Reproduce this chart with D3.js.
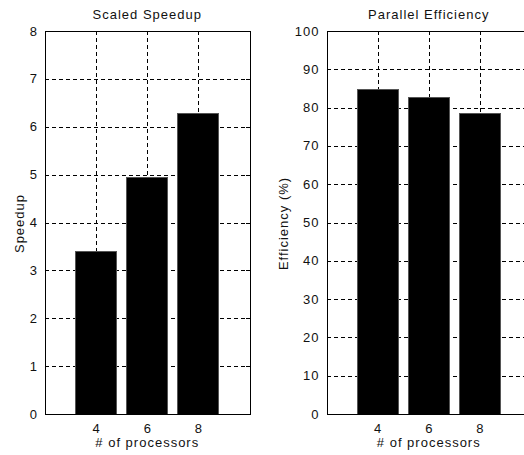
<!DOCTYPE html>
<html>
<head>
<meta charset="UTF-8">
<style>
  body { margin: 0; background: #fff; }
  svg text { font-family: "Liberation Sans", Arial, sans-serif; font-size: 13px; letter-spacing: 1px; fill: #111; }
  .grid line { stroke: #000; stroke-dasharray: 4,3; shape-rendering: crispEdges; }
  .box { fill: none; stroke: #000; shape-rendering: crispEdges; }
  .tick-mark { stroke: #000; shape-rendering: crispEdges; }
  .bar { fill: #000; stroke: #555; stroke-width: 1; shape-rendering: crispEdges; }
</style>
<script src="https://d3js.org/d3.v7.min.js"></script>
</head>
<body>
<svg width="524" height="455"></svg>
<script>
// data
var processors = [4, 6, 8];
var speedup = [3.39, 4.95, 6.27];
var efficiency = [84.8, 82.6, 78.4];
var speedupTicks = [0, 1, 2, 3, 4, 5, 6, 7, 8];
var efficiencyTicks = [0, 10, 20, 30, 40, 50, 60, 70, 80, 90, 100];

var svg = d3.select('svg');

drawPanel({
  left: 45, right: 249.5, top: 31, bottom: 414,
  values: speedup, ticks: speedupTicks, ymax: 8,
  title: 'Scaled Speedup', ylabel: 'Speedup', ylabelX: 19
});

drawPanel({
  left: 326.5, right: 531, top: 31, bottom: 414,
  values: efficiency, ticks: efficiencyTicks, ymax: 100,
  title: 'Parallel Efficiency', ylabel: 'Efficiency (%)', ylabelX: 283
});

function drawPanel(o) {
  var g = svg.append('g');
  var x = d3.scaleLinear().domain([2, 10]).range([o.left, o.right]);
  var y = d3.scaleLinear().domain([0, o.ymax]).range([o.bottom, o.top]);
  var barW = x(2 + 1.6) - x(2);

  // dashed grid
  var grid = g.append('g').attr('class', 'grid');
  grid.selectAll('.gy').data(o.ticks.slice(1, -1)).enter().append('line')
    .attr('x1', o.left).attr('x2', o.right)
    .attr('y1', function(d) { return Math.round(y(d)) + 0.5; })
    .attr('y2', function(d) { return Math.round(y(d)) + 0.5; });
  grid.selectAll('.gx').data(processors).enter().append('line')
    .attr('y1', o.top).attr('y2', o.bottom)
    .attr('x1', function(d) { return Math.round(x(d)) + 0.5; })
    .attr('x2', function(d) { return Math.round(x(d)) + 0.5; });

  // bars
  g.selectAll('.bar').data(processors).enter().append('rect')
    .attr('class', 'bar')
    .attr('x', function(d) { return x(d) - barW / 2; })
    .attr('width', barW)
    .attr('y', function(d, i) { return y(o.values[i]); })
    .attr('height', function(d, i) { return y(0) - y(o.values[i]); });

  // inward tick marks
  var tl = 4;
  o.ticks.forEach(function(t) {
    var yy = Math.round(y(t)) + 0.5;
    g.append('line').attr('class', 'tick-mark').attr('x1', o.left).attr('x2', o.left + tl).attr('y1', yy).attr('y2', yy);
    g.append('line').attr('class', 'tick-mark').attr('x1', o.right).attr('x2', o.right - tl).attr('y1', yy).attr('y2', yy);
  });
  processors.forEach(function(p) {
    var xx = Math.round(x(p)) + 0.5;
    g.append('line').attr('class', 'tick-mark').attr('x1', xx).attr('x2', xx).attr('y1', o.bottom).attr('y2', o.bottom - tl);
    g.append('line').attr('class', 'tick-mark').attr('x1', xx).attr('x2', xx).attr('y1', o.top).attr('y2', o.top + tl);
  });

  // box
  g.append('rect').attr('class', 'box')
    .attr('x', o.left + 0.5).attr('y', o.top + 0.5)
    .attr('width', o.right - o.left).attr('height', o.bottom - o.top);

  // tick labels
  g.selectAll('.ylab').data(o.ticks).enter().append('text')
    .attr('x', o.left - 7).attr('y', function(d) { return y(d); })
    .attr('dy', '0.35em').attr('text-anchor', 'end')
    .text(function(d) { return d; });
  g.selectAll('.xlab').data(processors).enter().append('text')
    .attr('x', function(d) { return x(d) + 0.5; }).attr('y', o.bottom + 19)
    .attr('text-anchor', 'middle')
    .text(function(d) { return d; });

  // titles
  g.append('text').attr('x', (o.left + o.right) / 2).attr('y', 19)
    .attr('text-anchor', 'middle').text(o.title);
  g.append('text').attr('x', (o.left + o.right) / 2).attr('y', o.bottom + 33)
    .attr('text-anchor', 'middle').text('# of processors');
  g.append('text')
    .attr('transform', 'translate(' + o.ylabelX + ',' + ((o.top + o.bottom) / 2 + 1) + ') rotate(-90)')
    .attr('dy', '0.35em').attr('text-anchor', 'middle').text(o.ylabel);
}
</script>
</body>
</html>
